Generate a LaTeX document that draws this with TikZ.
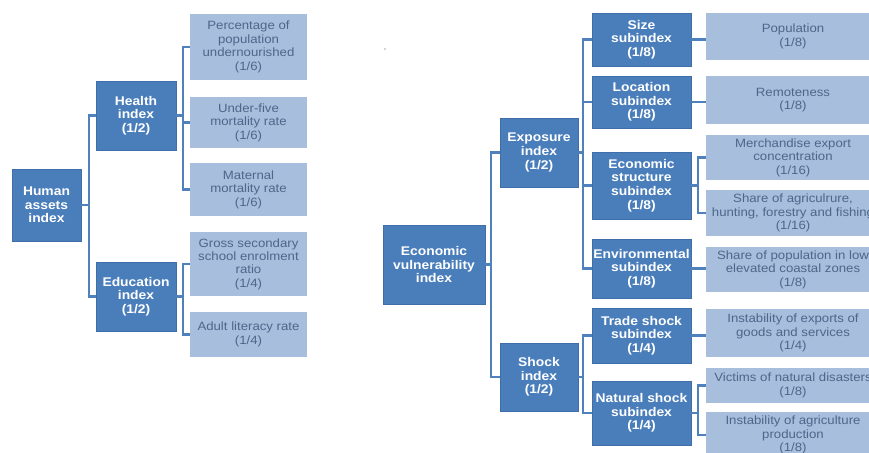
\documentclass[tikz,border=0pt]{standalone}
\usepackage{fontspec}
\newfontfamily\boxfont[FakeStretch=1.1]{Liberation Sans}
\definecolor{darkblue}{HTML}{4A7EBB}
\definecolor{darkedge}{HTML}{3F6EA8}
\definecolor{lightblue}{HTML}{A7BEDD}
\definecolor{lighttext}{HTML}{4E6689}
\definecolor{linkblue}{HTML}{4F81BD}
\tikzset{
  dark/.style={fill=darkblue, draw=darkedge, line width=0.6pt, text=white,
    align=center, inner sep=0pt,
    font=\boxfont\fontsize{12.6}{13.6}\selectfont\bfseries},
  light/.style={fill=lightblue, draw=none, text=lighttext,
    align=center, inner sep=0pt,
    font=\boxfont\fontsize{12}{13.4}\selectfont},
  link/.style={draw=linkblue, line width=2.3pt}
}
\begin{document}
\begin{tikzpicture}[x=1pt, y=-1pt]
\useasboundingbox (0,0) rectangle (869,452);
\clip (0,0) rectangle (869,452);
\fill[white] (0,0) rectangle (869,452);

% ---------------- Human assets index ----------------
\node[dark, minimum width=69pt, minimum height=72pt] (hai) at (46.5,205) {Human\\assets\\index};
\node[dark, minimum width=80pt, minimum height=69pt] (health) at (136,115.5) {Health\\index\\(1/2)};
\node[dark, minimum width=80pt, minimum height=69pt] (edu) at (136,296.5) {Education\\index\\(1/2)};

\node[light, minimum width=117pt, minimum height=66pt] (pun) at (248.5,47) {Percentage of\\population\\undernourished\\(1/6)};
\node[light, minimum width=117pt, minimum height=51pt] (ufm) at (248.5,122.5) {Under-five\\mortality rate\\(1/6)};
\node[light, minimum width=117pt, minimum height=53pt] (mmr) at (248.5,189.5) {Maternal\\mortality rate\\(1/6)};
\node[light, minimum width=117pt, minimum height=64pt] (gse) at (248.5,264) {Gross secondary\\school enrolment\\ratio\\(1/4)};
\node[light, minimum width=117pt, minimum height=45pt] (alr) at (248.5,334.5) {Adult literacy rate\\(1/4)};

\coordinate (ha) at (89,0);
\coordinate (hb) at (183,0);
\draw[link] (hai.east) -- (hai.east -| ha);
\draw[link] (health.west) -| (ha |- edu.west) -- (edu.west);
\draw[link] (health.east) -- (health.east -| hb);
\draw[link] (pun.west) -| (hb |- mmr.west) -- (mmr.west);
\draw[link] (ufm.west) -- (ufm.west -| hb);
\draw[link] (edu.east) -- (edu.east -| hb);
\draw[link] (gse.west) -| (hb |- alr.west) -- (alr.west);

% stray mark
\fill[gray!70] (385,49) circle (0.9);

% ---------------- Economic vulnerability index ----------------
\node[dark, minimum width=102pt, minimum height=79pt] (evi) at (434,264.5) {Economic\\vulnerability\\index};
\node[dark, minimum width=78pt, minimum height=69pt] (expo) at (539,152.5) {Exposure\\index\\(1/2)};
\node[dark, minimum width=78pt, minimum height=68pt] (shock) at (539,377) {Shock\\index\\(1/2)};

\node[dark, minimum width=99pt, minimum height=53pt] (size) at (641.5,39.5) {Size\\subindex\\(1/8)};
\node[dark, minimum width=99pt, minimum height=52pt] (loc) at (641.5,102) {Location\\subindex\\(1/8)};
\node[dark, minimum width=99pt, minimum height=67pt] (ecs) at (641.5,185.5) {Economic\\structure\\subindex\\(1/8)};
\node[dark, minimum width=99pt, minimum height=59pt] (env) at (641.5,268.5) {Environmental\\subindex\\(1/8)};
\node[dark, minimum width=99pt, minimum height=55pt] (trade) at (641.5,335.5) {Trade shock\\subindex\\(1/4)};
\node[dark, minimum width=99pt, minimum height=64pt] (nat) at (641.5,413) {Natural shock\\subindex\\(1/4)};

\node[light, minimum width=174pt, minimum height=47pt] (pop) at (793,36.5) {Population\\(1/8)};
\node[light, minimum width=174pt, minimum height=48pt] (rem) at (793,100) {Remoteness\\(1/8)};
\node[light, minimum width=174pt, minimum height=45pt] (mec) at (793,157.5) {Merchandise export\\concentration\\(1/16)};
\node[light, minimum width=174pt, minimum height=46pt] (agr) at (793,213) {Share of agriculrure,\\hunting, forestry  and fishing\\(1/16)};
\node[light, minimum width=174pt, minimum height=45pt] (lecz) at (793,269.5) {Share of population in low\\elevated coastal zones\\(1/8)};
\node[light, minimum width=174pt, minimum height=48pt] (ies) at (793,333) {Instability of exports of\\goods and services\\(1/4)};
\node[light, minimum width=174pt, minimum height=35pt] (vic) at (793,385.5) {Victims of natural disasters\\(1/8)};
\node[light, minimum width=174pt, minimum height=46pt] (iap) at (793,435) {Instability of agriculture\\production\\(1/8)};

\coordinate (ea) at (491,0);
\coordinate (eb) at (583,0);
\coordinate (ec) at (698,0);
\draw[link] (evi.east) -- (evi.east -| ea);
\draw[link] (expo.west) -| (ea |- shock.west) -- (shock.west);
\draw[link] (expo.east) -- (expo.east -| eb);
\draw[link] (size.west) -| (eb |- env.west) -- (env.west);
\draw[link] (loc.west) -- (loc.west -| eb);
\draw[link] (ecs.west) -- (ecs.west -| eb);
\draw[link] (shock.east) -- (shock.east -| eb);
\draw[link] (trade.west) -| (eb |- nat.west) -- (nat.west);

\draw[link] (size.east) -- (pop.west |- size.east);
\draw[link] (loc.east) -- (rem.west |- loc.east);
\draw[link] (ecs.east) -- (ecs.east -| ec);
\draw[link] (mec.west) -| (ec |- agr.west) -- (agr.west);
\draw[link] (env.east) -- (lecz.west |- env.east);
\draw[link] (trade.east) -- (ies.west |- trade.east);
\draw[link] (nat.east) -- (nat.east -| ec);
\draw[link] (vic.west) -| (ec |- iap.west) -- (iap.west);
\end{tikzpicture}
\end{document}
